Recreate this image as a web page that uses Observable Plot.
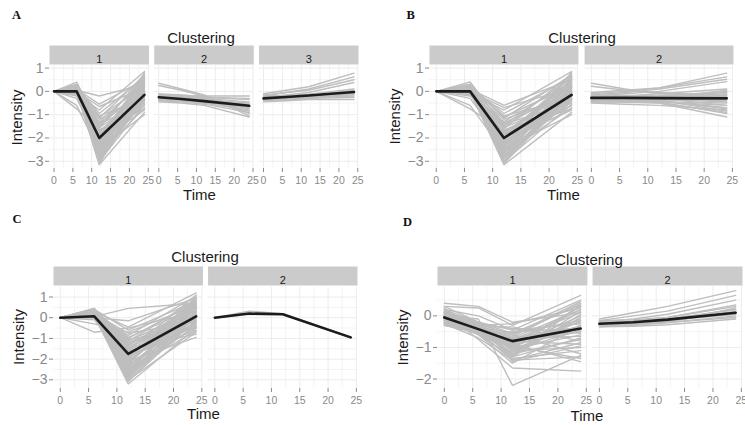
<!DOCTYPE html>
<html>
<head>
<meta charset="utf-8">
<script src="https://cdn.jsdelivr.net/npm/d3@7"></script>
<script src="https://cdn.jsdelivr.net/npm/@observablehq/plot@0.6"></script>
<style>
  html, body { margin: 0; padding: 0; background: #fff; }
  #root { position: relative; width: 745px; height: 425px; background: #fff; overflow: hidden; }
  #root > svg { position: absolute; }
</style>
</head>
<body>
<div id="root"></div>
<script>
// ---------- data ----------
const time = [0, 6, 12, 24];
const xMajor = [0, 5, 10, 15, 20, 25];
const xMinor = [2.5, 7.5, 12.5, 17.5, 22.5];
const yMajorABC = [-3, -2, -1, 0, 1];
const yMinorABC = [-2.5, -1.5, -0.5, 0.5];
const yMajorD = [-2, -1, 0];
const yMinorD = [-1.5, -0.5, 0.5];

const clustersA = ["1", "2", "3"];
const clustersB = ["1", "2"];
const clustersC = ["1", "2"];
const clustersD = ["1", "2"];

// each row: intensity at time 0, 6, 12, 24
const a1 = [
  [0, 0.05, -0.2, 0.3], [0, 0.1, -0.55, 0.5], [0, 0.0, -0.65, 0.15], [0, -0.1, -0.8, 0.85],
  [0, 0.2, -0.95, 0.6], [0, 0.15, -1.05, -0.3], [0, 0.3, -1.15, 0.7], [0, -0.2, -1.3, 0.4],
  [0, 0.05, -1.4, -0.5], [0, 0.4, -1.5, 0.2], [0, 0.1, -1.6, 0.75], [0, -0.75, -1.7, -0.2],
  [0, 0.0, -1.75, 0.05], [0, 0.25, -1.85, -0.6], [0, 0.1, -1.9, 0.45], [0, -0.1, -2.0, -0.1],
  [0, 0.05, -2.05, 0.3], [0, 0.2, -2.1, -0.8], [0, 0.0, -2.2, 0.1], [0, -0.3, -2.25, -0.35],
  [0, 0.15, -2.3, 0.55], [0, 0.1, -2.4, -0.05], [0, 0.3, -2.45, -1.0], [0, 0.0, -2.5, 0.2],
  [0, -0.6, -2.6, -0.45], [0, 0.1, -2.65, 0.35], [0, 0.05, -2.7, -0.7], [0, 0.2, -2.8, 0.0],
  [0, 0.0, -2.85, -0.25], [0, 0.1, -2.9, 0.6], [0, -0.05, -3.0, -0.55], [0, 0.15, -3.05, 0.15],
  [0, 0.0, -3.15, -0.9], [0, 0.05, -1.2, -0.15], [0, 0.1, -2.15, -0.4], [0, -0.15, -1.95, 0.65],
  [0, 0.25, -2.55, 0.45], [0, 0.05, -1.65, -0.75], [0, 0.0, -2.35, 0.8], [0, 0.1, -2.75, -0.15],
  [0, 0.2, -1.1, 0.25], [0, 0.05, -1.45, 0.6], [0, 0.15, -1.55, -0.35], [0, -0.05, -1.8, 0.2],
  [0, 0.3, -2.0, 0.5], [0, 0.1, -2.2, -0.6], [0, 0.0, -2.4, 0.7], [0, 0.2, -2.5, -0.2],
  [0, 0.1, -2.6, 0.05], [0, 0.05, -2.75, 0.4], [0, 0.15, -2.9, -0.35], [0, 0.0, -3.0, 0.25],
  [0, 0.1, -3.1, -0.05], [0, 0.25, -1.35, -0.05], [0, -0.1, -2.3, 0.0], [0, 0.05, -2.05, -0.3]
];
const a2 = [
  [0.35, 0.1, -0.15, -1.05], [0.25, 0.05, -0.2, -0.95], [-0.15, -0.18, -0.2, -0.2],
  [-0.2, -0.25, -0.3, -0.45], [-0.25, -0.3, -0.4, -0.6], [-0.3, -0.35, -0.45, -0.7],
  [-0.35, -0.4, -0.5, -0.8], [-0.4, -0.45, -0.55, -0.9], [-0.45, -0.5, -0.6, -1.1],
  [-0.1, -0.15, -0.25, -0.35], [-0.2, -0.25, -0.35, -0.55], [-0.3, -0.32, -0.38, -0.5],
  [-0.15, -0.22, -0.3, -0.65], [-0.35, -0.38, -0.45, -0.6], [-0.25, -0.3, -0.4, -0.75],
  [-0.3, -0.34, -0.42, -0.85], [-0.2, -0.22, -0.26, -0.3], [-0.4, -0.42, -0.48, -0.65]
];
const a3 = [
  [-0.1, 0.05, 0.2, 0.78], [-0.2, -0.05, 0.1, 0.62], [-0.15, -0.05, 0.05, 0.5],
  [-0.25, -0.15, -0.05, 0.38], [-0.3, -0.25, -0.2, -0.05], [-0.35, -0.3, -0.25, -0.15],
  [-0.4, -0.35, -0.3, -0.25], [-0.45, -0.4, -0.35, -0.35], [-0.2, -0.18, -0.12, 0.1],
  [-0.3, -0.27, -0.22, 0.05], [-0.25, -0.22, -0.18, -0.1], [-0.35, -0.32, -0.28, -0.2],
  [-0.4, -0.36, -0.3, -0.1], [-0.25, -0.2, -0.14, 0.0]
];
const aMean1 = [0, 0, -2.0, -0.15];
const aMean2 = [-0.25, -0.33, -0.42, -0.62];
const aMean3 = [-0.3, -0.24, -0.18, -0.03];

const b1 = [
  [0, 0.1, -0.6, 0.5], [0, 0.0, -0.7, 0.15], [0, -0.1, -0.8, 0.85],
  [0, 0.2, -0.95, 0.6], [0, 0.15, -1.05, -0.3], [0, 0.3, -1.15, 0.7], [0, -0.2, -1.3, 0.4],
  [0, 0.05, -1.4, -0.5], [0, 0.4, -1.5, 0.2], [0, 0.1, -1.6, 0.75], [0, -0.75, -1.7, -0.2],
  [0, 0.0, -1.75, 0.05], [0, 0.25, -1.85, -0.6], [0, 0.1, -1.9, 0.45], [0, -0.1, -2.0, -0.1],
  [0, 0.05, -2.05, 0.3], [0, 0.2, -2.1, -0.8], [0, 0.0, -2.2, 0.1], [0, -0.3, -2.25, -0.35],
  [0, 0.15, -2.3, 0.55], [0, 0.1, -2.4, -0.05], [0, 0.3, -2.45, -1.0], [0, 0.0, -2.5, 0.2],
  [0, -0.6, -2.6, -0.45], [0, 0.1, -2.65, 0.35], [0, 0.05, -2.7, -0.7], [0, 0.2, -2.8, 0.0],
  [0, 0.0, -2.85, -0.25], [0, 0.1, -2.9, 0.6], [0, -0.05, -3.0, -0.55], [0, 0.15, -3.05, 0.15],
  [0, 0.0, -3.15, -0.9], [0, 0.05, -1.2, -0.15], [0, 0.1, -2.15, -0.4], [0, -0.15, -1.95, 0.65],
  [0, 0.25, -2.55, 0.45], [0, 0.05, -1.65, -0.75], [0, 0.0, -2.35, 0.8], [0, 0.1, -2.75, -0.15],
  [0, 0.2, -1.1, 0.25], [0, 0.05, -1.45, 0.6], [0, 0.15, -1.55, -0.35], [0, -0.05, -1.8, 0.2],
  [0, 0.3, -2.0, 0.5], [0, 0.1, -2.2, -0.6], [0, 0.0, -2.4, 0.7], [0, 0.2, -2.5, -0.2],
  [0, 0.1, -2.6, 0.05], [0, 0.05, -2.75, 0.4], [0, 0.15, -2.9, -0.35], [0, 0.0, -3.0, 0.25],
  [0, 0.1, -3.1, -0.05], [0, 0.25, -1.35, -0.05], [0, -0.1, -2.3, 0.0], [0, 0.05, -2.05, -0.3]
];
const b2 = [
  [0.35, 0.1, -0.1, -0.3], [0.22, 0.05, -0.05, -0.2], [-0.1, 0.0, 0.15, 0.78],
  [-0.05, 0.05, 0.15, 0.62], [-0.15, -0.05, 0.1, 0.52], [-0.2, -0.1, 0.0, 0.42],
  [-0.25, -0.2, -0.1, 0.1], [-0.3, -0.25, -0.2, 0.0], [-0.35, -0.3, -0.25, -0.1],
  [-0.4, -0.38, -0.35, -0.3], [-0.45, -0.45, -0.45, -0.5], [-0.5, -0.55, -0.6, -0.8],
  [-0.3, -0.35, -0.45, -0.95], [-0.35, -0.4, -0.5, -1.1], [-0.25, -0.28, -0.32, -0.4],
  [-0.2, -0.25, -0.3, -0.6], [-0.4, -0.4, -0.4, -0.7], [-0.3, -0.3, -0.3, -0.2],
  [-0.45, -0.42, -0.38, -0.25], [-0.15, -0.18, -0.2, -0.15], [-0.35, -0.34, -0.32, 0.05],
  [-0.25, -0.3, -0.38, -0.85], [-0.4, -0.42, -0.45, -0.6], [-0.3, -0.32, -0.35, -0.45],
  [-0.2, -0.22, -0.25, -0.3], [-0.35, -0.37, -0.4, -0.75], [-0.25, -0.24, -0.22, -0.05],
  [-0.45, -0.47, -0.5, -0.9]
];
const bMean1 = [0, 0, -2.0, -0.15];
const bMean2 = [-0.28, -0.28, -0.29, -0.3];

const c1 = [
  [0, 0.05, 0.45, 0.7], [0, 0.0, -0.15, 0.95], [0, -0.7, -0.5, 0.3], [0, 0.3, -0.45, 1.2],
  [0, 0.4, -0.6, 0.8], [0, 0.2, -0.75, -0.2], [0, 0.1, -0.85, 1.05], [0, 0.35, -0.95, 0.5],
  [0, 0.25, -1.05, -0.5], [0, 0.15, -1.15, 0.9], [0, 0.45, -1.25, 0.2], [0, 0.05, -1.35, 0.65],
  [0, 0.3, -1.45, -0.8], [0, 0.2, -1.5, 0.4], [0, 0.1, -1.6, 1.1], [0, 0.4, -1.7, -0.1],
  [0, 0.0, -1.8, 0.55], [0, 0.25, -1.85, -0.4], [0, 0.15, -1.95, 0.85], [0, 0.35, -2.05, 0.1],
  [0, -0.1, -2.1, -0.95], [0, 0.2, -2.2, 0.7], [0, 0.1, -2.3, -0.3], [0, 0.3, -2.4, 0.3],
  [0, 0.05, -2.5, -0.65], [0, 0.2, -2.6, 0.95], [0, 0.4, -2.7, 0.0], [0, 0.1, -2.8, -0.15],
  [0, 0.25, -2.9, 0.6], [0, 0.15, -3.0, -0.7], [0, 0.3, -3.1, 0.25], [0, 0.1, -3.2, -0.5],
  [0, 0.2, -1.0, 0.75], [0, 0.35, -1.4, 0.0], [0, 0.1, -1.75, 0.35], [0, 0.25, -2.0, 1.0],
  [0, 0.45, -2.35, -0.2], [0, 0.15, -2.55, 0.45], [0, 0.3, -2.75, -0.35], [0, 0.05, -1.2, 0.15],
  [0, -0.3, -0.7, 0.6], [0, 0.2, -2.15, 0.9], [0, 0.35, -1.65, 0.5],
  [0, 0.2, -1.3, 0.0], [0, 0.3, -1.55, 0.7], [0, 0.1, -1.9, -0.25], [0, 0.4, -2.1, 0.45],
  [0, 0.15, -2.25, 0.8], [0, 0.25, -2.45, -0.45], [0, 0.1, -2.65, 0.2], [0, 0.35, -2.85, 0.55],
  [0, 0.2, -3.05, -0.1], [0, 0.3, -2.3, 0.15], [0, 0.15, -1.85, -0.6], [0, 0.4, -2.6, 0.65],
  [0, 0.05, -2.95, 0.1], [0, 0.25, -1.1, 0.3]
];
const c2 = [[0, 0.32, 0.2, -0.93], [0, 0.15, 0.15, -0.97]];
const cMean1 = [0, 0.07, -1.75, 0.07];
const cMean2 = [0, 0.2, 0.17, -0.95];

const d1 = [
  [0.4, 0.3, -0.2, 0.1], [0.3, 0.25, -0.3, 0.65], [0.2, 0.0, -0.45, 0.5], [0.1, -0.2, -0.55, 0.35],
  [0.0, -0.25, -0.6, -1.2], [-0.1, -0.35, -0.7, 0.2], [-0.2, -0.45, -0.8, -0.9], [-0.3, -0.5, -0.9, 0.3],
  [0.15, -0.3, -1.0, -0.1], [0.05, -0.4, -1.1, -1.0], [-0.05, -0.5, -1.2, 0.15], [-0.15, -0.6, -1.3, -0.7],
  [-0.25, -0.7, -1.4, -1.3], [0.25, -0.6, -1.5, -0.3], [0.1, -0.75, -1.65, -1.75], [0.0, -0.1, -2.2, -1.25],
  [-0.1, -0.4, -0.65, 0.4], [0.05, -0.3, -0.75, -0.5], [-0.2, -0.5, -0.85, -0.2], [-0.05, -0.45, -0.95, 0.0],
  [0.2, -0.2, -1.05, -0.6], [-0.3, -0.55, -0.5, -0.4], [0.0, -0.35, -0.35, -0.8], [-0.15, -0.3, -0.25, 0.25],
  [0.1, -0.25, -0.9, -1.45], [-0.25, -0.55, -1.15, -0.15], [0.05, -0.45, -1.25, -0.05], [-0.1, -0.55, -1.35, -1.1],
  [0.3, -0.2, -1.45, -0.95], [-0.2, -0.4, -0.6, 0.45], [0.15, -0.25, -0.4, -0.55], [-0.05, -0.3, -0.7, -0.35],
  [0.0, -0.4, -1.0, 0.3], [-0.25, -0.45, -0.95, -1.35],
  [0.0, -0.3, -0.75, 0.1], [-0.1, -0.45, -1.05, -0.3], [0.1, -0.35, -1.2, -0.75], [-0.2, -0.5, -0.9, -0.5],
  [0.05, -0.4, -1.3, 0.05], [-0.05, -0.35, -0.55, -0.15], [0.15, -0.3, -1.1, -0.45], [-0.15, -0.5, -1.4, -0.85],
  [0.0, -0.45, -0.85, 0.2], [-0.25, -0.55, -0.7, -0.65], [0.1, -0.2, -0.45, -0.25], [-0.1, -0.4, -1.25, 0.35]
];
const d2 = [
  [-0.1, 0.1, 0.3, 0.8], [-0.15, 0.0, 0.15, 0.65], [-0.2, -0.1, 0.05, 0.5], [-0.25, -0.15, -0.05, 0.35],
  [-0.15, -0.12, -0.05, 0.3], [-0.2, -0.18, -0.1, 0.2], [-0.25, -0.22, -0.15, 0.1], [-0.3, -0.28, -0.22, 0.0],
  [-0.35, -0.33, -0.28, -0.1], [-0.3, -0.25, -0.18, 0.15], [-0.2, -0.2, -0.15, 0.05], [-0.35, -0.3, -0.2, 0.25],
  [-0.3, -0.27, -0.2, -0.05], [-0.25, -0.2, -0.12, 0.2]
];
const dMean1 = [-0.05, -0.42, -0.8, -0.4];
const dMean2 = [-0.25, -0.2, -0.12, 0.1];

// ---------- helpers ----------
function tidyLines(groups, keys) {
  const rows = [];
  groups.forEach((g, gi) => g.forEach((vals, li) => vals.forEach((v, ti) =>
    rows.push({c: keys[gi], id: keys[gi] + "-" + li, t: time[ti], v}))));
  return rows;
}
function tidyMeans(means, keys) {
  const rows = [];
  means.forEach((m, gi) => m.forEach((v, ti) => rows.push({c: keys[gi], t: time[ti], v})));
  return rows;
}

const FONT = "'Liberation Sans', Arial, Helvetica, sans-serif";
const TICK_TEXT = "#8a8a8a";
const Y_TICK_SIZE = 14;
const X_TICK_SIZE = 10.5;

function panel(cfg) {
  const {keys, lines, means, yDomain, yMajor, yMinor, width, height,
         marginLeft, marginRight, marginTop, marginBottom, stripH, stripGap, fxPad} = cfg;
  const panelH = height - marginTop - marginBottom;
  const svg = Plot.plot({
    width, height, marginLeft, marginRight, marginTop, marginBottom,
    style: {fontFamily: FONT, background: "transparent", overflow: "visible"},
    fx: {domain: keys, paddingInner: fxPad, paddingOuter: 0, axis: null, round: false},
    x: {domain: [-1.2, 25.2]},
    y: {domain: yDomain},
    marks: [
      Plot.gridX(xMinor, {stroke: "#f4f4f4", strokeOpacity: 1, strokeWidth: 1}),
      Plot.gridY(yMinor, {stroke: "#f4f4f4", strokeOpacity: 1, strokeWidth: 1}),
      Plot.gridX(xMajor, {stroke: "#ececec", strokeOpacity: 1, strokeWidth: 1}),
      Plot.gridY(yMajor, {stroke: "#ececec", strokeOpacity: 1, strokeWidth: 1}),
      Plot.frame({fill: "#cbcbcb", stroke: null,
                  insetTop: -(stripGap + stripH), insetBottom: panelH + stripGap}),
      Plot.text(keys, {fx: d => d, text: d => d, frameAnchor: "top",
                       dy: -(stripGap + stripH / 2), fontSize: 11, fill: "#1a1a1a"}),
      Plot.axisX(xMajor, {tickSize: 4, tickPadding: 4, fontSize: X_TICK_SIZE, color: TICK_TEXT, label: null}),
      Plot.axisY(yMajor, {tickSize: 4, tickPadding: 2, fontSize: Y_TICK_SIZE, color: TICK_TEXT, label: null}),
      Plot.line(tidyLines(lines, keys), {fx: "c", x: "t", y: "v", z: "id",
                stroke: "#bebebe", strokeWidth: 1.4}),
      Plot.line(tidyMeans(means, keys), {fx: "c", x: "t", y: "v", z: "c",
                stroke: "#1c1c1c", strokeWidth: 2.6})
    ]
  });
  // make sure the tick-label font sizes win over the root's default size
  d3.select(svg).selectAll("g").each(function () {
    const lab = this.getAttribute("aria-label") || "";
    if (lab === "y-axis tick label") d3.select(this).style("font-size", Y_TICK_SIZE + "px");
    if (lab === "x-axis tick label") d3.select(this).style("font-size", X_TICK_SIZE + "px");
  });
  svg.style.left = cfg.left + "px";
  svg.style.top = cfg.top + "px";
  return svg;
}

const root = document.getElementById("root");

root.appendChild(panel({
  left: 0, top: 0, width: 370, height: 200,
  marginLeft: 49, marginRight: 12, marginTop: 65, marginBottom: 32,
  stripH: 19, stripGap: 1, fxPad: 0.05,
  keys: clustersA, lines: [a1, a2, a3], means: [aMean1, aMean2, aMean3],
  yDomain: [-3.31, 1.11], yMajor: yMajorABC, yMinor: yMinorABC
}));
root.appendChild(panel({
  left: 370, top: 0, width: 375, height: 200,
  marginLeft: 59, marginRight: 12, marginTop: 65, marginBottom: 32,
  stripH: 19, stripGap: 1, fxPad: 0.04,
  keys: clustersB, lines: [b1, b2], means: [bMean1, bMean2],
  yDomain: [-3.31, 1.11], yMajor: yMajorABC, yMinor: yMinorABC
}));
root.appendChild(panel({
  left: 0, top: 200, width: 370, height: 225,
  marginLeft: 53, marginRight: 13, marginTop: 87, marginBottom: 37,
  stripH: 19, stripGap: 2, fxPad: 0.033,
  keys: clustersC, lines: [c1, c2], means: [cMean1, cMean2],
  yDomain: [-3.42, 1.46], yMajor: yMajorABC, yMinor: yMinorABC
}));
root.appendChild(panel({
  left: 370, top: 200, width: 375, height: 225,
  marginLeft: 67, marginRight: 3, marginTop: 86, marginBottom: 37,
  stripH: 19, stripGap: 1, fxPad: 0.033,
  keys: clustersD, lines: [d1, d2], means: [dMean1, dMean2],
  yDomain: [-2.3, 0.93], yMajor: yMajorD, yMinor: yMinorD
}));

// ---------- titles ----------
const panelLetters = ["A", "B", "C", "D"];
const letterPos = [[12, 18.5], [406.5, 19], [12.5, 222.5], [403, 226]];
const clusterTitlePos = [[201, 42.5], [582, 42.5], [205, 261.5], [589, 264.5]];
const timePos = [[199.5, 199.5], [563.5, 199.5], [203.5, 419], [587, 421]];
const intensityPos = [[22, 117.5], [400, 116.5], [23.5, 337], [408, 337.5]];

const over = d3.select(root).append("svg")
  .attr("width", 745).attr("height", 425)
  .style("left", "0px").style("top", "0px").style("pointer-events", "none");

over.selectAll("text.letter").data(panelLetters).join("text")
  .attr("class", "letter")
  .attr("x", (d, i) => letterPos[i][0]).attr("y", (d, i) => letterPos[i][1])
  .attr("font-family", "'Liberation Serif', 'Times New Roman', serif")
  .attr("font-weight", "bold").attr("font-size", 12.5).attr("fill", "#111")
  .text(d => d);

over.selectAll("text.clus").data(clusterTitlePos).join("text")
  .attr("class", "clus")
  .attr("x", d => d[0]).attr("y", d => d[1])
  .attr("text-anchor", "middle").attr("font-family", FONT).attr("font-size", 15).attr("fill", "#1a1a1a")
  .text("Clustering");

over.selectAll("text.time").data(timePos).join("text")
  .attr("class", "time")
  .attr("x", d => d[0]).attr("y", d => d[1])
  .attr("text-anchor", "middle").attr("font-family", FONT).attr("font-size", 15).attr("fill", "#1a1a1a")
  .text("Time");

over.selectAll("text.inten").data(intensityPos).join("text")
  .attr("class", "inten")
  .attr("transform", d => `translate(${d[0]},${d[1]}) rotate(-90)`)
  .attr("text-anchor", "middle").attr("font-family", FONT).attr("font-size", 15).attr("fill", "#1a1a1a")
  .text("Intensity");
</script>
</body>
</html>
